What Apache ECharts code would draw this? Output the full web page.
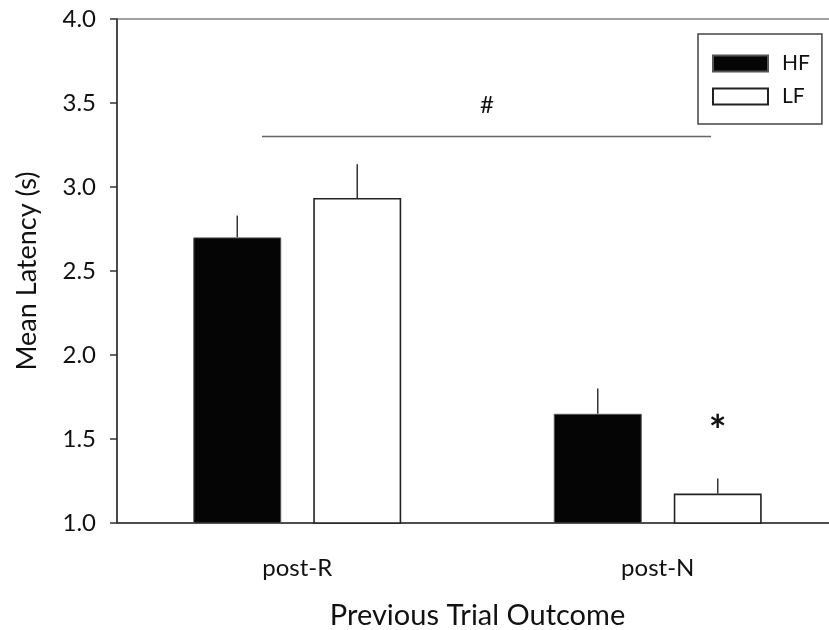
<!DOCTYPE html>
<html><head><meta charset="utf-8">
<script src="https://cdn.jsdelivr.net/npm/echarts@6/dist/echarts.min.js"></script>
<style>html,body{margin:0;padding:0;background:#fff}#c{width:829px;height:630px}</style>
</head><body><div id="c"></div>
<script>
const categories = ['post-R', 'post-N'];
const hfValues = [2.70, 1.65];
const hfErrors = [0.13, 0.15];
const lfValues = [2.935, 1.175];
const lfErrors = [0.20, 0.09];
const yTicks = [1.0, 1.5, 2.0, 2.5, 3.0, 3.5, 4.0];
const sigLineValue = 3.30;

const FONT = 'Lato';
const chart = echarts.init(document.getElementById('c'));
const barW = 0.244, gapFrac = 0.0888;
const offFrac = (barW + gapFrac) / 2;

function errSeries(name, vals, errs, sign) {
  return {
    type: 'custom', name: name + '-err', silent: true, z: 1,
    data: vals.map((v, i) => [i, v, errs[i]]),
    renderItem: function (params, api) {
      const i = api.value(0), v = api.value(1), e = api.value(2);
      const cw = api.size([1, 0])[0];
      const p0 = api.coord([i, v]);
      const p1 = api.coord([i, v + e]);
      const x = p0[0] + sign * cw * offFrac;
      return { type: 'line', shape: { x1: x, y1: p0[1], x2: x, y2: p1[1] },
        style: { stroke: '#333', lineWidth: 1.5 } };
    }
  };
}

chart.setOption({
  animation: false,
  grid: { left: 117, top: 19, height: 504, width: 721, show: true, borderColor: '#444', borderWidth: 1.2,
    outerBoundsMode: 'none', containLabel: false },
  legend: {
    data: [{ name: 'HF' }, { name: 'LF' }],
    orient: 'vertical', left: 698, top: 34,
    padding: [19, 12, 17, 14], itemWidth: 55, itemHeight: 16, itemGap: 12,
    borderColor: '#444', borderWidth: 1.5, icon: 'rect',
    textStyle: { fontFamily: FONT, fontSize: 21, color: '#111', padding: [0, 0, 0, 9] }
  },
  xAxis: {
    type: 'category', data: categories,
    axisLine: { lineStyle: { color: '#333', width: 1.5 } },
    axisTick: { alignWithLabel: true, length: 8, lineStyle: { color: '#333', width: 1.5 } },
    axisLabel: { fontFamily: FONT, fontSize: 24, color: '#111', margin: 33 },
    name: 'Previous Trial Outcome', nameLocation: 'middle', nameGap: 78,
    nameTextStyle: { fontFamily: FONT, fontSize: 29, color: '#111' }
  },
  yAxis: {
    type: 'value', min: 1, max: 4, interval: 0.5,
    axisLine: { show: true, lineStyle: { color: '#333', width: 1.5 } },
    axisTick: { show: true, length: 7, lineStyle: { color: '#333', width: 1.5 } },
    splitLine: { show: false },
    axisLabel: { fontFamily: FONT, fontSize: 24, color: '#111', margin: 21,
      formatter: v => yTicks.includes(v) ? v.toFixed(1) : '' },
    name: 'Mean Latency (s)', nameLocation: 'middle', nameGap: 76,
    nameTextStyle: { fontFamily: FONT, fontSize: 27, color: '#111' }
  },
  series: [
    { type: 'bar', name: 'HF', data: hfValues, barWidth: (barW * 100) + '%', barGap: (gapFrac / barW * 100) + '%',
      itemStyle: { color: '#050505', borderColor: '#555', borderWidth: 1 }, z: 2 },
    { type: 'bar', name: 'LF', data: lfValues, barWidth: (barW * 100) + '%',
      itemStyle: { color: '#fff', borderColor: '#222', borderWidth: 1.6 }, z: 2 },
    errSeries('HF', hfValues, hfErrors, -1),
    errSeries('LF', lfValues, lfErrors, 1)
  ]
});

// significance annotations
const ySig = chart.convertToPixel({ yAxisIndex: 0 }, sigLineValue);
const lfN = chart.convertToPixel({ xAxisIndex: 0, yAxisIndex: 0 }, [1, lfValues[1] + lfErrors[1]]);
const cw = chart.convertToPixel({ xAxisIndex: 0 }, 1) - chart.convertToPixel({ xAxisIndex: 0 }, 0);
chart.setOption({
  graphic: [
    { type: 'line', shape: { x1: 262, y1: ySig, x2: 711, y2: ySig }, style: { stroke: '#666', lineWidth: 1.5 } },
    { type: 'text', x: 487, y: ySig - 31, style: { text: '#', font: '24px ' + FONT, fill: '#111', align: 'center', verticalAlign: 'middle' } },
    { type: 'text', x: lfN[0] + cw * offFrac, y: lfN[1] - 46, style: { text: '*', font: 'bold 42px ' + FONT, fill: '#111', align: 'center', verticalAlign: 'middle' } }
  ]
});
</script></body></html>
